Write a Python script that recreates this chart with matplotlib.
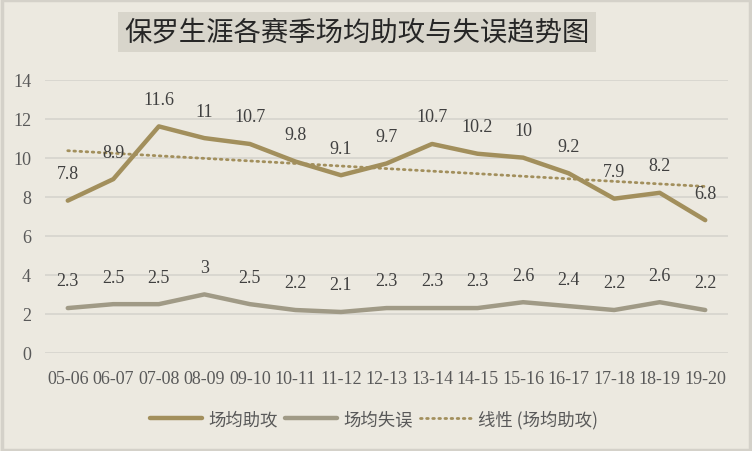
import numpy as np
import matplotlib
matplotlib.use("Agg")
import matplotlib.pyplot as plt
from matplotlib.patches import Rectangle

seasons = ["05-06", "06-07", "07-08", "08-09", "09-10", "10-11", "11-12", "12-13",
           "13-14", "14-15", "15-16", "16-17", "17-18", "18-19", "19-20"]
assists = [7.8, 8.9, 11.6, 11, 10.7, 9.8, 9.1, 9.7, 10.7, 10.2, 10, 9.2, 7.9, 8.2, 6.8]
turnovers = [2.3, 2.5, 2.5, 3, 2.5, 2.2, 2.1, 2.3, 2.3, 2.3, 2.6, 2.4, 2.2, 2.6, 2.2]
yticks = [0, 2, 4, 6, 8, 10, 12, 14]
title = "保罗生涯各赛季场均助攻与失误趋势图"
labels = ["场均助攻", "场均失误", "线性 (场均助攻)"]

BG = "#ECE9E0"
C_AST = "#A28F5C"
C_TO = "#A09A86"
GRID = "#D8D6CF"
SERIF = ["Liberation Serif", "DejaVu Serif"]
CJK = ["Noto Sans CJK SC", "DejaVu Sans"]

fig = plt.figure(figsize=(7.52, 4.52), dpi=100, facecolor=BG)
ax = fig.add_axes([45/752, (452-354)/452, 683/752, 273.5/452])
ax.set_facecolor(BG)

x = np.arange(len(seasons))
ax.plot(x, assists, color=C_AST, lw=3.2, solid_joinstyle="round", solid_capstyle="round", zorder=3,
        label=labels[0])
ax.plot(x, turnovers, color=C_TO, lw=3.2, solid_joinstyle="round", solid_capstyle="round", zorder=3,
        label=labels[1])
coef = np.polyfit(x, assists, 1)
trend = np.polyval(coef, x)
ax.plot(x, trend, color=C_AST, lw=2.0, linestyle=(0, (0.6, 1.6)), dash_capstyle="round", zorder=2,
        label=labels[2])

for xi, v in zip(x, assists):
    ax.annotate(f"{v:g}", (xi, v), xytext=(0, 19.5), textcoords="offset points",
                ha="center", va="center", fontsize=13, family=SERIF, color="#404040", zorder=4)
for xi, v in zip(x, turnovers):
    ax.annotate(f"{v:g}", (xi, v), xytext=(0, 19.5), textcoords="offset points",
                ha="center", va="center", fontsize=13, family=SERIF, color="#404040", zorder=4)

ax.set_xlim(-0.5, len(seasons) - 0.5)
ax.set_ylim(0, 14)
ax.set_yticks(yticks)
ax.set_yticklabels([str(t) for t in yticks], family=SERIF, fontsize=13, color="#595959")
ax.set_xticks(x)
ax.set_xticklabels(seasons, family=SERIF, fontsize=13, color="#595959")
ax.tick_params(axis="both", length=0)
ax.tick_params(axis="x", pad=12)
ax.tick_params(axis="y", pad=10)
ax.grid(axis="y", color=GRID, lw=1.3, zorder=0)
for s in ax.spines.values():
    s.set_visible(False)

# title box
fig.add_artist(Rectangle((118/752, (452-53)/452), (596-118)/752, 40/452,
                         transform=fig.transFigure, facecolor="#D8D5CB", edgecolor="none"))
fig.text(357/752, (452-33)/452, title, ha="center", va="center", fontsize=19.7,
         family=CJK, color="#262626")

leg = fig.legend(loc="center", bbox_to_anchor=(374/752, (452-420)/452), ncol=3, frameon=False,
                 prop={"family": CJK, "size": 12.5}, handlelength=3.0, handletextpad=0.35,
                 columnspacing=0.4, labelcolor="#595959")

# outer border
fig.add_artist(Rectangle((0.002, 0.003), 0.995, 0.994, transform=fig.transFigure,
                         facecolor="none", edgecolor="#D4D1C9", lw=2.5))

fig.savefig("out.png", dpi=100, facecolor=BG)
